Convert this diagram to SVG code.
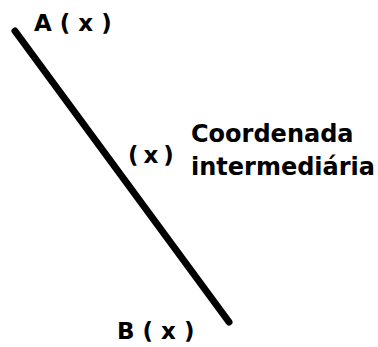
<svg xmlns="http://www.w3.org/2000/svg" width="378" height="347" viewBox="0 0 378 347">
<style>
text{font-family:"DejaVu Sans",Verdana,sans-serif;font-weight:bold;font-size:23px;fill:#000}
.lbl{font-size:24px}
</style>
<rect width="378" height="347" fill="#fff"/>
<g id="connectors">
<line x1="15" y1="31" x2="229" y2="322" stroke="#000" stroke-width="7" stroke-linecap="round"/>
</g>
<g id="A"><text x="34" y="31" xml:space="preserve">A ( x )</text></g>
<g id="mid"><text x="128" y="163" xml:space="preserve" word-spacing="-3">( x )</text></g>
<g id="label"><text class="lbl" x="191" y="142">Coordenada</text><text class="lbl" x="191" y="175">intermediária</text></g>
<g id="B"><text x="117" y="339" xml:space="preserve">B ( x )</text></g>
</svg>
